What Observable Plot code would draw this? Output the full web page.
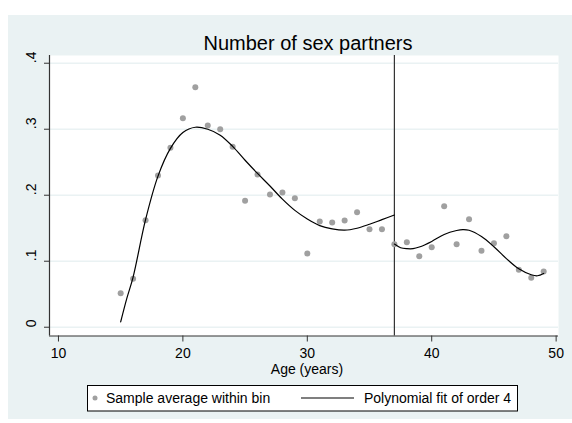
<!DOCTYPE html>
<html><head><meta charset="utf-8">
<script src="https://cdn.jsdelivr.net/npm/d3@7"></script>
<script src="https://cdn.jsdelivr.net/npm/@observablehq/plot@0.6"></script>
<style>body{margin:0;background:#fff}</style>
</head><body><div id="chart"></div>
<script>
// ---- data ----
const ages  = [15,16,17,18,19,20,21,22,23,24,25,26,27,28,29,30,31,32,33,34,35,36,37,38,39,40,41,42,43,44,45,46,47,48,49];
const means = [0.0515,0.0733,0.162,0.2298,0.2718,0.3167,0.3636,0.3056,0.300,0.2733,0.1915,0.2314,0.2011,0.2041,0.1955,0.1117,0.160,0.1586,0.1617,0.1742,0.1485,0.1485,
               0.1258,0.1288,0.1076,0.1212,0.1833,0.1258,0.1636,0.1158,0.1273,0.1379,0.087,0.0748,0.0844];
const leftFitAge  = [15,15.5,16,17,18,19,20,21,22,23,24,25,26,27,28,29,30,31,32,33,34,35,36,37];
const leftFitVal  = [0.008,0.044,0.076,0.163,0.229,0.271,0.295,0.303,0.300,0.291,0.274,0.253,0.233,0.214,0.194,0.177,0.164,0.154,0.149,0.147,0.150,0.156,0.163,0.170];
const rightFitAge = [37,37.5,38,38.5,39,40,41,42,42.5,43,44,45,46,47,48,48.5,49];
const rightFitVal = [0.126,0.1205,0.119,0.119,0.1215,0.130,0.1405,0.1465,0.148,0.147,0.1375,0.122,0.104,0.0885,0.0795,0.078,0.0815];
const cutoff = 37;
const xTicks = [10,20,30,40,50];
const xTickLabels = ["10","20","30","40","50"];
const yTicks = [0,0.1,0.2,0.3,0.4];
const yTickLabels = ["0",".1",".2",".3",".4"];
const titleText = "Number of sex partners";
const xLabel = "Age (years)";
const legendLabels = ["Sample average within bin","Polynomial fit of order 4"];

// ---- tables ----
const points = ages.map((a,i)=>({age:a, value:means[i]}));
const fit = [
  ...leftFitAge.map((a,i)=>({age:a, value:leftFitVal[i], side:"left"})),
  ...rightFitAge.map((a,i)=>({age:a, value:rightFitVal[i], side:"right"}))
];

const font = "'Liberation Sans', Arial, Helvetica, sans-serif";
const xDom = [9.28, 50.19];
const yDom = [-0.0133, 0.4117];
const bg = "#eaf2f3";

const svg = Plot.plot({
  width: 572, height: 423,
  marginLeft: 49, marginRight: 14, marginTop: 55, marginBottom: 87.5,
  style: {fontFamily: font, fontSize: "14px", background: "white", color: "#000"},
  x: {domain: xDom},
  y: {domain: yDom},
  marks: [
    Plot.frame({fill: "white", stroke: null}),
    Plot.gridY(yTicks, {stroke: bg, strokeOpacity: 1, strokeWidth: 1.5}),
    Plot.axisX(xTicks, {tickSize: 6, tickPadding: 6, fontSize: 14, label: null, stroke: "#333",
      tickFormat: (d) => xTickLabels[xTicks.indexOf(d)]}),
    Plot.axisY(yTicks, {tickSize: 5, tickFormat: () => "", label: null, stroke: "#333"}),
    Plot.text(yTicks, {y: d => d, text: (d, i) => yTickLabels[i], frameAnchor: "left", dx: -18,
      rotate: -90, fontSize: 14, fill: "#000"}),
    Plot.ruleX([xDom[0]], {stroke: "#333", strokeWidth: 1.2}),
    Plot.ruleY([yDom[0]], {stroke: "#333", strokeWidth: 1.2}),
    Plot.ruleX([cutoff], {stroke: "#333", strokeWidth: 1.2}),
    Plot.dot(points, {x: "age", y: "value", r: 3, fill: "#a0a0a0", stroke: null}),
    Plot.line(fit, {x: "age", y: "value", z: "side", curve: "catmull-rom", stroke: "#000", strokeWidth: 1.2})
  ]
});

const s = d3.select(svg);
s.insert("rect", ":first-child").attr("x", 8).attr("y", 15).attr("width", 564).attr("height", 404).attr("fill", bg);
s.append("text").attr("x", 308).attr("y", 50).attr("text-anchor", "middle")
  .attr("font-family", font).attr("font-size", 20).attr("fill", "#000").text(titleText);
s.append("text").attr("x", 307).attr("y", 374).attr("text-anchor", "middle")
  .attr("font-family", font).attr("font-size", 14).attr("fill", "#000").text(xLabel);
const lg = s.append("g").attr("text-anchor", "start");
lg.append("rect").attr("x", 87.5).attr("y", 385.5).attr("width", 430).attr("height", 25.5)
  .attr("fill", "white").attr("stroke", "#000").attr("stroke-width", 1);
lg.append("circle").attr("cx", 95).attr("cy", 398).attr("r", 2.5).attr("fill", "#a0a0a0");
lg.append("text").attr("x", 106).attr("y", 403).attr("text-anchor", "start").attr("font-family", font).attr("font-size", 14).attr("fill", "#000").text(legendLabels[0]);
lg.append("line").attr("x1", 301).attr("x2", 354).attr("y1", 398).attr("y2", 398).attr("stroke", "#000").attr("stroke-width", 1.2);
lg.append("text").attr("x", 364).attr("y", 403).attr("text-anchor", "start").attr("font-family", font).attr("font-size", 14).attr("fill", "#000").text(legendLabels[1]);

document.getElementById("chart").appendChild(svg);
</script>
</body></html>
